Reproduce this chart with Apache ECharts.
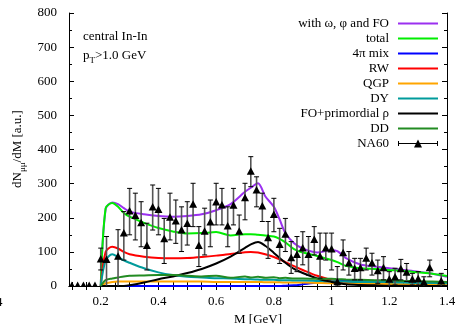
<!DOCTYPE html>
<html>
<head>
<meta charset="utf-8">
<script src="https://cdn.jsdelivr.net/npm/echarts@6/dist/echarts.min.js"></script>
<style>
  html, body { margin: 0; padding: 0; background: #fff; }
  #chart { width: 459px; height: 324px; }
</style>
</head>
<body>
<div id="chart"></div>
<script>
// model curves share one mass grid (GeV)
const massModel = [0.2, 0.217, 0.24, 0.26, 0.28, 0.3, 0.35, 0.4, 0.45, 0.5, 0.55, 0.6, 0.65, 0.7, 0.72, 0.745, 0.77, 0.8, 0.82, 0.84, 0.87, 0.9, 0.95, 1.0, 1.02, 1.05, 1.1, 1.15, 1.2, 1.25, 1.3, 1.35, 1.4];
const withOmegaPhiFO = [0, 225, 245, 240, 228, 218, 210, 205, 203, 205, 210, 222, 240, 276, 288, 301, 263, 232, 195, 155, 125, 110, 98, 105, 102, 82, 63, 57, 52, 47, 42, 36, 27];
const total = [0, 228, 243, 232, 214, 203, 185, 170, 160, 154, 155, 158, 148, 152, 152, 150, 148, 145, 138, 128, 108, 98, 88, 76, 70, 59, 52, 50, 47, 44, 40, 36, 29];
const mix4pi = [0, 0, 0, 0, 0, 0, 0, 0, 0, 0, 0, 0, 0, 0, 0, 0, 0, 0, 0, 1, 2, 5, 10, 14, 15, 16, 16, 15, 14, 13, 12, 11, 10];
const rw = [0, 100, 115, 110, 100, 93, 86, 82, 81, 82, 85, 89, 94, 99, 100, 98, 93, 85, 78, 70, 58, 47, 30, 17, 13, 10, 7, 5, 4, 3, 2, 2, 1];
const qgp = [0, 8, 12, 13, 13, 13, 13, 13, 13, 13, 13, 12, 12, 12, 12, 12, 11, 11, 11, 10, 10, 10, 9, 8, 8, 7, 7, 6, 6, 5, 5, 4, 4];
const dy = [0, 75, 93, 85, 75, 68, 52, 40, 32, 27, 25, 23, 22, 20, 20, 19, 18, 18, 17, 17, 16, 16, 15, 14, 14, 13, 12, 12, 11, 10, 9, 9, 8];
const foRho = [0, 0, 0, 0, 0, 2, 10, 20, 28, 38, 50, 66, 86, 112, 122, 129, 118, 97, 82, 68, 50, 38, 22, 12, 9, 5, 3, 2, 1, 1, 0, 0, 0];
const dd = [0, 17, 22, 25, 28, 30, 31, 32, 32, 30, 28, 30, 24, 28, 25, 27, 24, 26, 23, 24, 22, 22, 21, 21, 20, 19, 18, 17, 16, 15, 14, 13, 12];

// NA60 data
const massNA60 = [0.10, 0.12, 0.14, 0.16, 0.18, 0.20, 0.22, 0.26, 0.28, 0.30, 0.32, 0.34, 0.36, 0.38, 0.40, 0.42, 0.44, 0.46, 0.48, 0.50, 0.52, 0.54, 0.56, 0.58, 0.60, 0.62, 0.64, 0.66, 0.68, 0.70, 0.72, 0.74, 0.76, 0.78, 0.80, 0.82, 0.84, 0.86, 0.88, 0.90, 0.92, 0.94, 0.96, 0.98, 1.00, 1.02, 1.04, 1.06, 1.08, 1.10, 1.12, 1.14, 1.16, 1.18, 1.20, 1.22, 1.24, 1.26, 1.28, 1.30, 1.32, 1.34, 1.38];
const yNA60 = [0, 0, 0, 0, 0, 78, 76, 86, 154, 218, 205, 184, 117, 230, 223, 137, 200, 189, 163, 182, 238, 117, 159, 186, 245, 236, 174, 235, 159, 257, 335, 280, 233, 140, 208, 120, 150, 81, 91, 110, 91, 135, 86, 110, 107, 11, 96, 66, 50, 52, 80, 66, 43, 52, 18, 25, 49, 39, 18, 20, 10, 52, 13];
const loNA60 = [0, 0, 0, 0, 0, 47, 0, 0, 76, 150, 135, 115, 47, 164, 150, 66, 135, 125, 101, 120, 174, 57, 91, 115, 179, 179, 115, 179, 96, 194, 291, 232, 189, 81, 159, 66, 101, 37, 42, 62, 32, 91, 23, 76, 47, 0, 47, 32, 18, 18, 47, 32, 8, 18, 0, 3, 18, 13, 3, 3, 0, 27, 0];
const hiNA60 = [0, 0, 0, 0, 0, 111, 145, 165, 218, 286, 272, 247, 184, 296, 286, 198, 272, 252, 232, 247, 301, 174, 228, 252, 301, 286, 232, 286, 208, 301, 379, 320, 272, 189, 257, 169, 198, 130, 145, 159, 145, 174, 155, 155, 155, 57, 135, 101, 81, 81, 111, 96, 76, 86, 42, 52, 78, 66, 37, 42, 27, 76, 37];

const xTickLabels = [0.2, 0.4, 0.6, 0.8, 1, 1.2, 1.4];
const xMinorTicks = [];
for (let i = 2; i <= 28; i++) xMinorTicks.push(+(i * 0.05).toFixed(2));

const FONT = "Liberation Serif";
const LINE_ICON = "path://M0,0L40,0L40,2L0,2Z";
const NA60_ICON = "path://M0,4.5L40,4.5L40,5.5L0,5.5Z M0,2.5L1,2.5L1,7.5L0,7.5Z M39,2.5L40,2.5L40,7.5L39,7.5Z M16,9L20,1L24,9Z";

const curves = [
  { name: "with ω, φ and FO", data: withOmegaPhiFO, color: "#9b30f0" },
  { name: "total", data: total, color: "#00ee00" },
  { name: "4π mix", data: mix4pi, color: "#0000ff" },
  { name: "RW", data: rw, color: "#ff0000" },
  { name: "QGP", data: qgp, color: "#ffa500" },
  { name: "DY", data: dy, color: "#009b9b" },
  { name: "FO+primordial ρ", data: foRho, color: "#000000" },
  { name: "DD", data: dd, color: "#228b22" },
];

const chart = echarts.init(document.getElementById("chart"), null, { renderer: "canvas" });

const lineSeries = curves.map((c) => ({
  name: c.name,
  type: "line",
  xAxisIndex: 0,
  yAxisIndex: 0,
  symbol: "none",
  smooth: 0.3,
  lineStyle: { color: c.color, width: 2 },
  itemStyle: { color: c.color },
  data: massModel.map((m, i) => [m, c.data[i]]),
  z: 2,
}));

const na60Series = {
  name: "NA60",
  type: "custom",
  xAxisIndex: 0,
  yAxisIndex: 0,
  clip: true,
  itemStyle: { color: "#000" },
  data: massNA60.map((m, i) => [m, yNA60[i], loNA60[i], hiNA60[i]]),
  renderItem: (params, api) => {
    const p = api.coord([api.value(0), api.value(1)]);
    const lo = api.coord([api.value(0), api.value(2)]);
    const hi = api.coord([api.value(0), api.value(3)]);
    const children = [];
    if (api.value(3) > api.value(2)) {
      children.push({
        type: "line",
        shape: { x1: p[0], y1: lo[1], x2: p[0], y2: hi[1] },
        style: { stroke: "#555", lineWidth: 1.6 },
      });
      children.push({
        type: "line",
        shape: { x1: p[0] - 2.5, y1: lo[1], x2: p[0] + 2.5, y2: lo[1] },
        style: { stroke: "#000", lineWidth: 1 },
      });
      children.push({
        type: "line",
        shape: { x1: p[0] - 2.5, y1: hi[1], x2: p[0] + 2.5, y2: hi[1] },
        style: { stroke: "#000", lineWidth: 1 },
      });
    }
    children.push({
      type: "polygon",
      shape: { points: [[p[0], p[1] - 4.5], [p[0] - 4, p[1] + 3], [p[0] + 4, p[1] + 3]] },
      style: { fill: "#000" },
    });
    return { type: "group", children };
  },
  z: 3,
};

const axisCommon = {
  axisLine: { show: true, lineStyle: { color: "#000", width: 1 } },
  splitLine: { show: false },
};

chart.setOption({
  animation: false,
  backgroundColor: "#fff",
  grid: { left: 69, right: 12, top: 13, bottom: 38, containLabel: false, outerBoundsMode: "none" },
  legend: {
    orient: "vertical",
    align: "right",
    right: 21,
    top: 16,
    padding: 0,
    itemGap: 0,
    itemWidth: 40,
    itemHeight: 8,
    selectedMode: false,
    textStyle: { fontFamily: FONT, fontSize: 13, color: "#000", lineHeight: 15, padding: [0, 4, 0, 0] },
    data: curves
      .map((c) => ({ name: c.name, icon: LINE_ICON, itemStyle: { color: c.color } }))
      .concat([{ name: "NA60", icon: NA60_ICON, itemStyle: { color: "#000" } }]),
  },
  xAxis: [
    {
      ...axisCommon,
      type: "value",
      position: "bottom",
      min: 0.09,
      max: 1.4,
      name: "M [GeV]",
      nameLocation: "middle",
      nameGap: 18,
      nameTextStyle: { fontFamily: FONT, fontSize: 13, color: "#000" },
      axisTick: { show: true, inside: true, length: 4, customValues: xMinorTicks, lineStyle: { color: "#000" } },
      axisLabel: {
        show: true,
        customValues: xTickLabels,
        margin: 9,
        fontFamily: FONT,
        fontSize: 13,
        color: "#000",
        formatter: (v) => String(+v.toFixed(2)),
      },
    },
    {
      ...axisCommon,
      type: "value",
      position: "top",
      min: 0.09,
      max: 1.4,
      axisTick: { show: true, inside: true, length: 4, customValues: xMinorTicks, lineStyle: { color: "#000" } },
      axisLabel: { show: false },
    },
  ],
  yAxis: [
    {
      ...axisCommon,
      type: "value",
      position: "left",
      min: 0,
      max: 800,
      interval: 100,
      axisTick: { show: true, inside: true, length: 5, lineStyle: { color: "#000" } },
      minorTick: { show: true, splitNumber: 2, length: 3, lineStyle: { color: "#000" } },
      minorSplitLine: { show: false },
      axisLabel: { margin: 12, fontFamily: FONT, fontSize: 13, color: "#000" },
    },
    {
      ...axisCommon,
      type: "value",
      position: "right",
      min: 0,
      max: 800,
      interval: 100,
      axisTick: { show: true, inside: true, length: 5, lineStyle: { color: "#000" } },
      minorTick: { show: true, splitNumber: 2, length: 3, lineStyle: { color: "#000" } },
      minorSplitLine: { show: false },
      axisLabel: { show: false },
    },
  ],
  graphic: [
    {
      type: "text",
      left: 83,
      top: 30,
      style: { text: "central In-In", font: `13px "${FONT}"`, fill: "#000" },
    },
    {
      type: "text",
      left: 83,
      top: 49,
      style: {
        text: "{a|p}{s|T}{a|>1.0 GeV}",
        fill: "#000",
        rich: {
          a: { fontFamily: FONT, fontSize: 13, lineHeight: 16, verticalAlign: "top" },
          s: { fontFamily: FONT, fontSize: 9, lineHeight: 10, verticalAlign: "bottom", padding: [5, 0, 0, 0] },
        },
      },
    },
    {
      type: "text",
      x: 19,
      y: 149,
      rotation: Math.PI / 2,
      style: {
        text: "{a|dN}{s|μμ}{a|/dM [a.u.]}",
        align: "center",
        verticalAlign: "middle",
        fill: "#000",
        rich: {
          a: { fontFamily: FONT, fontSize: 13, lineHeight: 16, verticalAlign: "top" },
          s: { fontFamily: FONT, fontSize: 9, lineHeight: 10, verticalAlign: "bottom", padding: [5, 0, 0, 0] },
        },
      },
    },
    {
      type: "text",
      x: -4,
      y: 296,
      style: { text: "4", font: `13px "${FONT}"`, fill: "#000" },
    },
  ],
  series: lineSeries.concat([na60Series]),
});
</script>
</body>
</html>
